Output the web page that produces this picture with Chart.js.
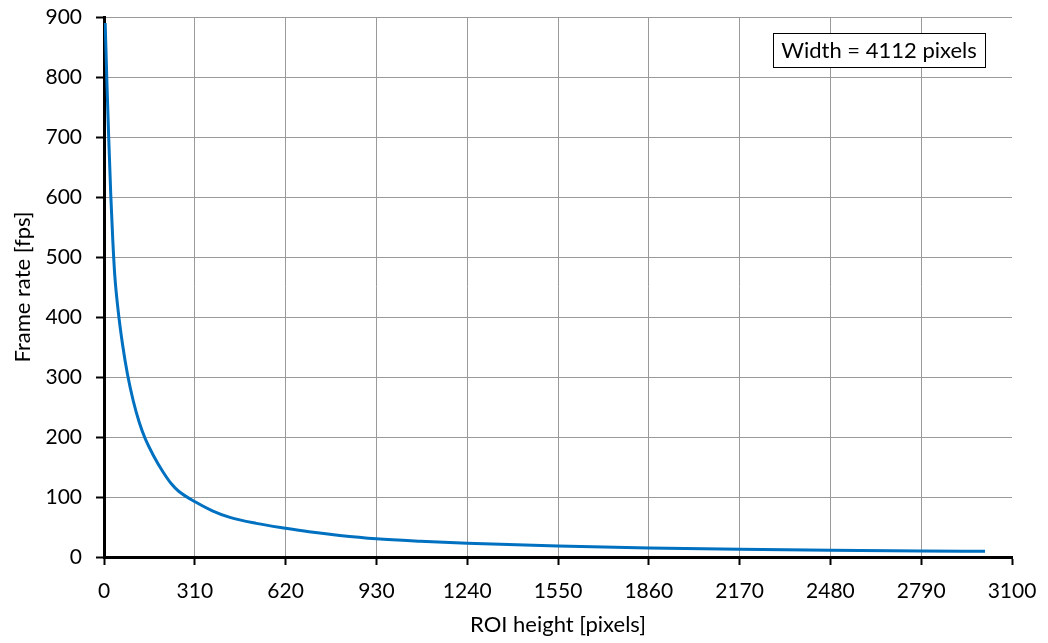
<!DOCTYPE html>
<html>
<head>
<meta charset="utf-8">
<script src="https://cdn.jsdelivr.net/npm/chart.js@4/dist/chart.umd.min.js"></script>
<style>
  html, body { margin: 0; padding: 0; background: #fff; }
  #wrap { width: 1048px; height: 643px; }
</style>
</head>
<body>
<div id="wrap"><canvas id="fps" width="1048" height="643"></canvas></div>
<script>
// ROI height [pixels] vs frame rate [fps]
const roiHeight = [4, 10, 16, 23, 30, 37, 48, 64, 80, 100, 120, 140, 170, 200, 230, 254, 311, 370, 430, 520, 620, 700, 805, 930, 1080, 1240, 1550, 1860, 2170, 2480, 2790, 3008];
const frameRate = [890, 790, 700, 605, 528, 468, 412, 352, 305, 260, 225, 198, 168, 143, 122, 110, 92, 77, 66, 56, 47.8, 42, 36, 30.5, 26.3, 22.8, 18.3, 15.2, 13, 11.4, 10.1, 9.4];

const xTicks = [0, 310, 620, 930, 1240, 1550, 1860, 2170, 2480, 2790, 3100];
const yTicks = [0, 100, 200, 300, 400, 500, 600, 700, 800, 900];

const noteText = 'Width = 4112 pixels';
const fontFamily = 'Lato, "Open Sans", sans-serif';

const notePlugin = {
    id: 'note',
    afterDraw(chart) {
        const ctx = chart.ctx;
        ctx.save();
        ctx.font = '22px ' + fontFamily;
        const x = 773, y = 33, w = 212, h = 34;
        ctx.fillStyle = '#fff';
        ctx.fillRect(x, y, w, h);
        ctx.strokeStyle = '#000';
        ctx.lineWidth = 1;
        ctx.strokeRect(x + 0.5, y + 0.5, w, h);
        ctx.fillStyle = '#000';
        ctx.textAlign = 'center';
        ctx.textBaseline = 'middle';
        ctx.fillText(noteText, x + w / 2, y + h / 2 + 1);
        ctx.restore();
    }
};

new Chart(document.getElementById('fps'), {
    type: 'scatter',
    data: {
        datasets: [{
            data: roiHeight.map((h, i) => ({ x: h, y: frameRate[i] })),
            showLine: true,
            borderColor: '#0070C0',
            borderWidth: 3,
            pointRadius: 0,
            cubicInterpolationMode: 'monotone'
        }]
    },
    options: {
        responsive: false,
        animation: false,
        layout: { padding: { left: 0, top: 17, right: 36, bottom: 0 } },
        scales: {
            x: {
                type: 'linear',
                min: 0,
                max: 3100,
                afterBuildTicks: s => { s.ticks = xTicks.map(v => ({ value: v })); },
                afterFit: s => { s.height = 86; s.paddingLeft = 0; s.paddingRight = 0; },
                border: { color: '#000', width: 3 },
                grid: {
                    color: ctx => ctx.tick && ctx.tick.value === 3100 ? 'rgba(0,0,0,0)' : '#9a9a9a',
                    lineWidth: 1,
                    tickColor: '#000',
                    tickWidth: 2,
                    tickLength: 8
                },
                ticks: { color: '#000', padding: 14, font: { family: fontFamily, size: 21 }, callback: v => String(v) },
                title: {
                    display: true,
                    text: 'ROI height [pixels]',
                    color: '#000',
                    padding: { top: 0, bottom: 5 },
                    font: { family: fontFamily, size: 22 }
                }
            },
            y: {
                min: 0,
                max: 900,
                afterBuildTicks: s => { s.ticks = yTicks.map(v => ({ value: v })); },
                afterFit: s => { s.width = 104; s.paddingTop = 0; s.paddingBottom = 0; },
                border: { color: '#000', width: 3 },
                grid: {
                    color: '#9a9a9a',
                    lineWidth: 1,
                    tickColor: '#000',
                    tickWidth: 2,
                    tickLength: 8
                },
                ticks: { color: '#000', padding: 14, font: { family: fontFamily, size: 21 }, callback: v => String(v) },
                title: {
                    display: true,
                    text: 'Frame rate [fps]',
                    color: '#000',
                    padding: { top: 10, bottom: 0 },
                    font: { family: fontFamily, size: 22 }
                }
            }
        },
        plugins: {
            legend: { display: false },
            tooltip: { enabled: false }
        }
    },
    plugins: [notePlugin]
});
</script>
</body>
</html>
